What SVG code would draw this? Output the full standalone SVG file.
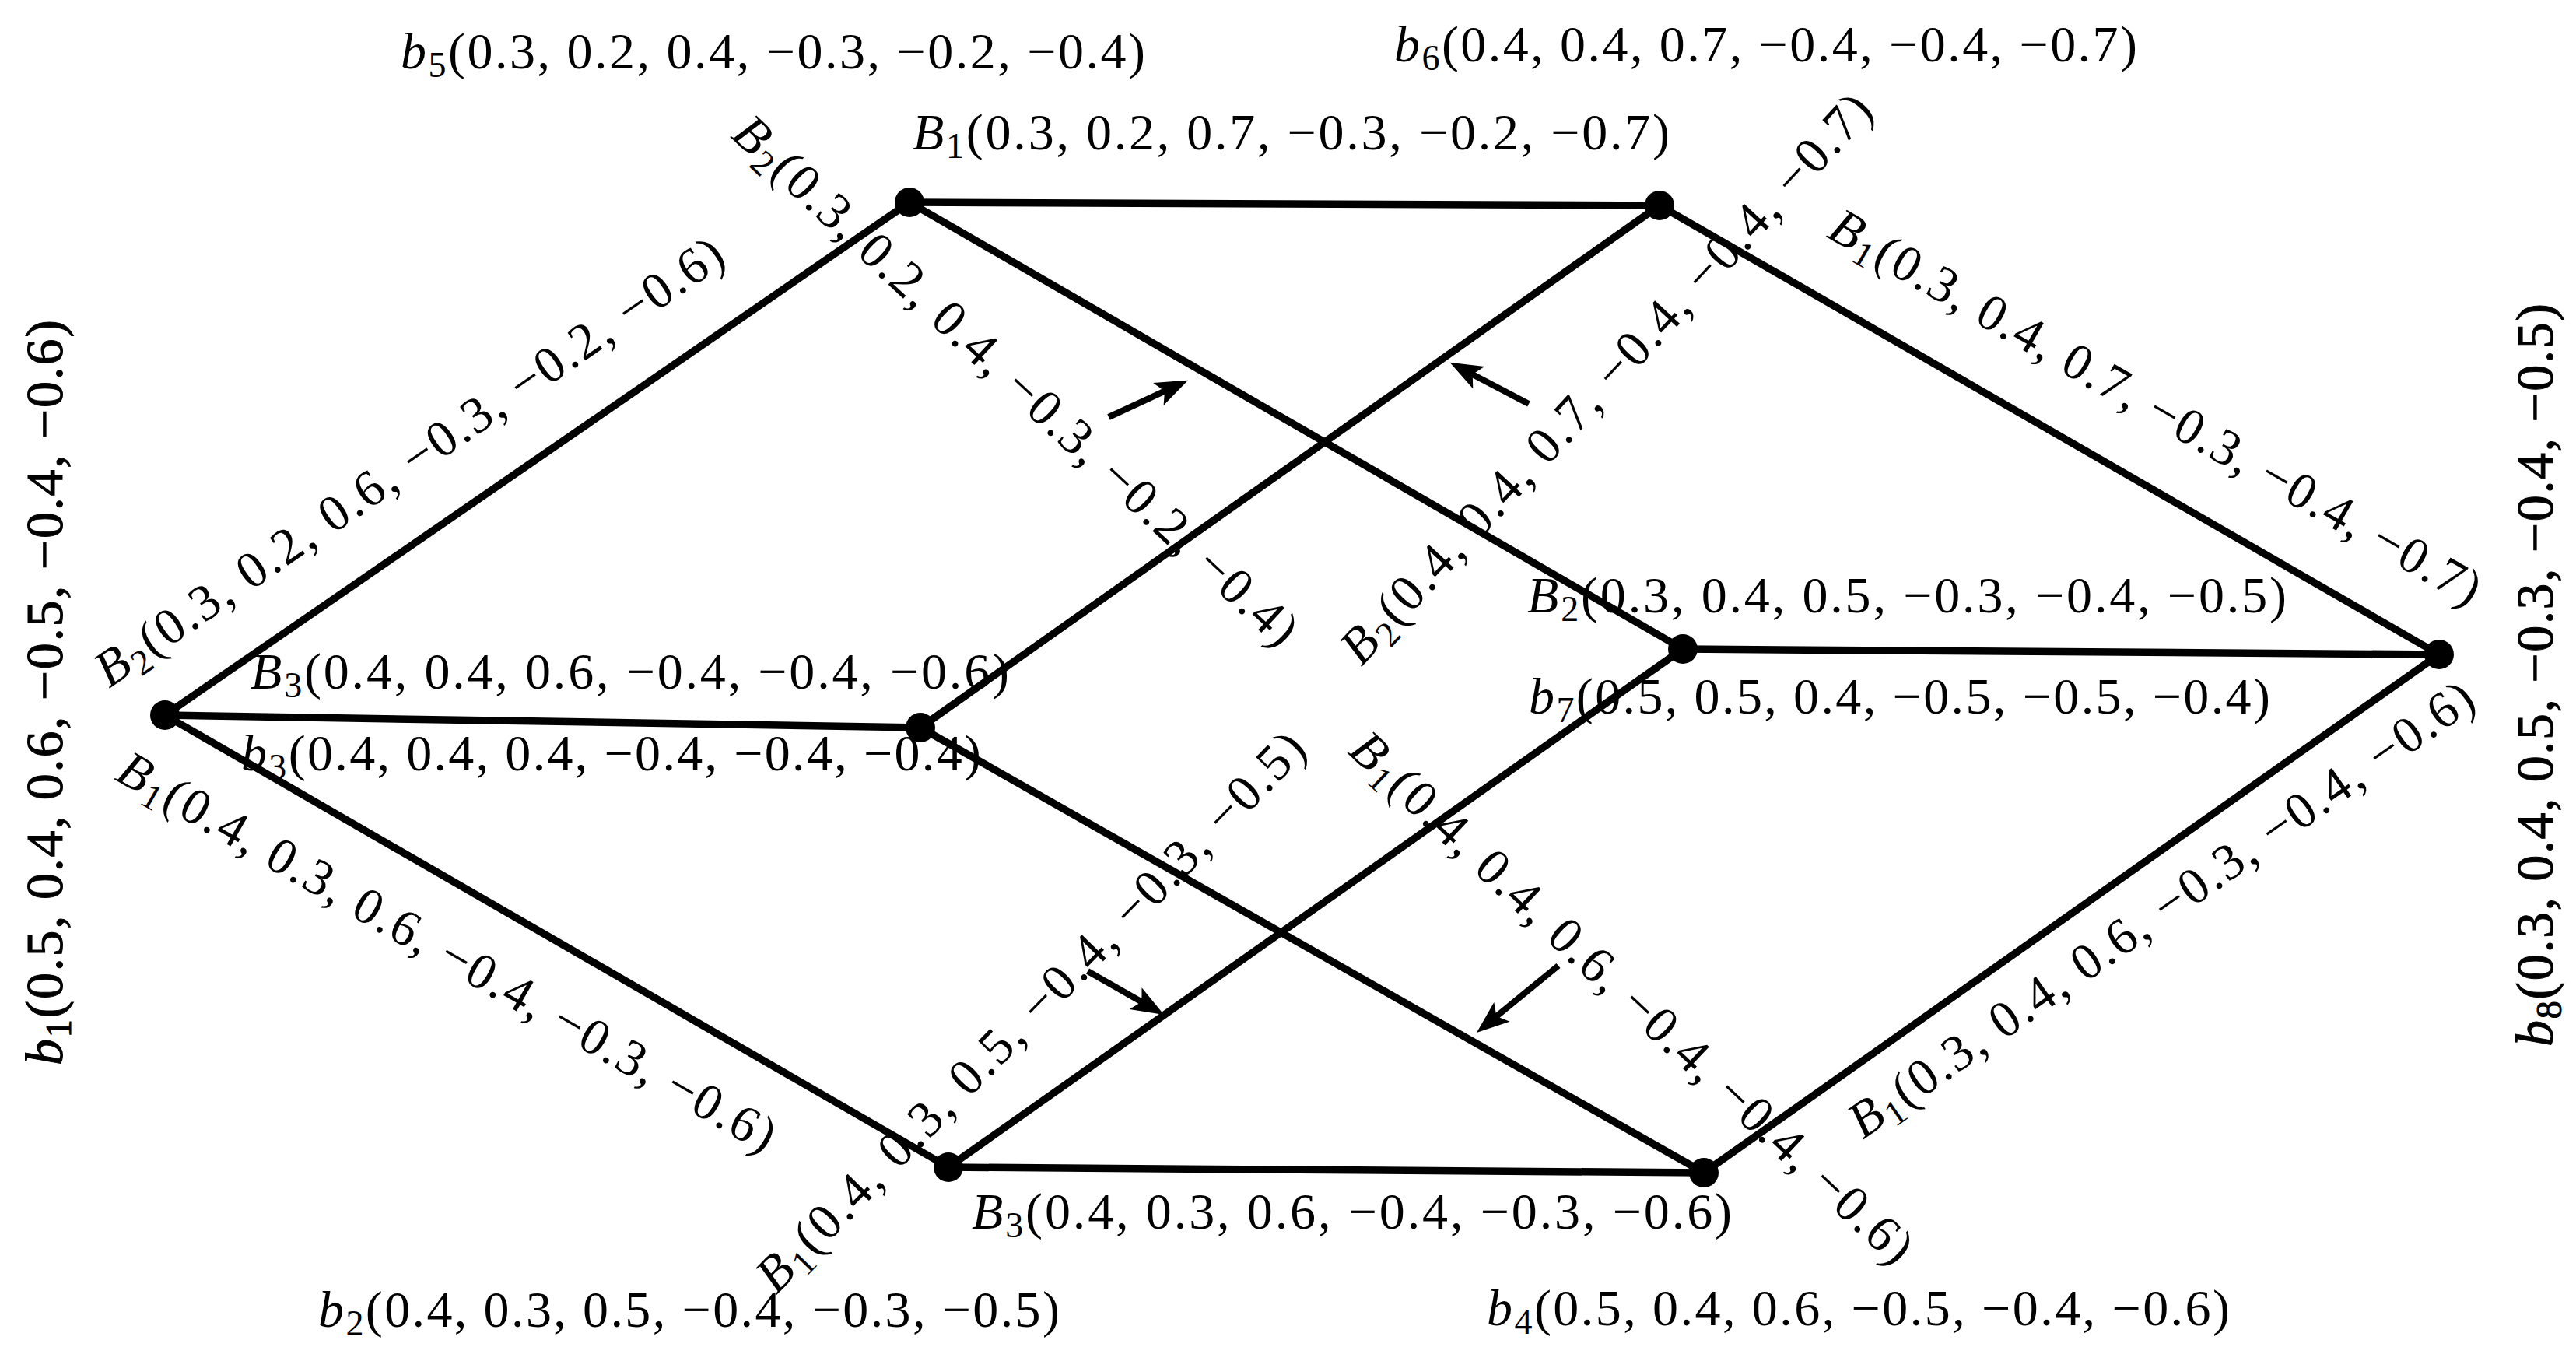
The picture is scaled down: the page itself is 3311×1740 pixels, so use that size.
<svg xmlns="http://www.w3.org/2000/svg" width="3311" height="1740" viewBox="0 0 3311 1740">
<style>
.edge{stroke:#000;stroke-width:9.5;fill:none;stroke-linecap:round}
.arr{stroke:#000;stroke-width:8;fill:none;marker-end:url(#ah)}
.node{fill:#000}
.lbl{font-family:"Liberation Serif","DejaVu Serif",serif;font-size:66px;fill:#000}
.vl{font-size:68px;stroke:#000;stroke-width:1}
.it{font-style:italic}
.sub{font-size:46px}
</style>
<defs>
<marker id="ah" markerUnits="userSpaceOnUse" markerWidth="46" markerHeight="36" refX="20" refY="16" orient="auto" overflow="visible">
<path d="M0,0 L42,16 L0,32 L9,16 Z" fill="#000"/>
</marker>
</defs>
<rect width="3311" height="1740" fill="#fff"/>
<g id="connectors">
<line class="edge" x1="212" y1="919" x2="1169" y2="260"/>
<line class="edge" x1="212" y1="919" x2="1183" y2="935"/>
<line class="edge" x1="212" y1="919" x2="1219" y2="1500"/>
<line class="edge" x1="1169" y1="260" x2="2133" y2="264"/>
<line class="edge" x1="1169" y1="260" x2="2163" y2="834"/>
<line class="edge" x1="1183" y1="935" x2="2133" y2="264"/>
<line class="edge" x1="2133" y1="264" x2="3135" y2="841"/>
<line class="edge" x1="2163" y1="834" x2="3135" y2="841"/>
<line class="edge" x1="1183" y1="935" x2="2190" y2="1507"/>
<line class="edge" x1="1219" y1="1500" x2="2163" y2="834"/>
<line class="edge" x1="1219" y1="1500" x2="2190" y2="1507"/>
<line class="edge" x1="2190" y1="1507" x2="3135" y2="841"/>
<line class="arr" x1="1425" y1="536" x2="1507" y2="498"/>
<line class="arr" x1="1965" y1="519" x2="1883" y2="476"/>
<line class="arr" x1="1398" y1="1248" x2="1477" y2="1293"/>
<line class="arr" x1="2003" y1="1241" x2="1915" y2="1313"/>
</g>
<g id="edge-labels">
<text class="lbl" text-anchor="middle" textLength="966" transform="translate(538,611) rotate(-34.55)"><tspan class="it">B</tspan><tspan class="sub" dy="11">2</tspan><tspan dy="-11">(0.3, 0.2, 0.6, −0.3, −0.2, −0.6)</tspan></text>
<text class="lbl" text-anchor="middle" textLength="965" transform="translate(564,1242) rotate(29.98)"><tspan class="it">B</tspan><tspan class="sub" dy="11">1</tspan><tspan dy="-11">(0.4, 0.3, 0.6, −0.4, −0.3, −0.6)</tspan></text>
<text class="lbl" text-anchor="middle" textLength="966" transform="translate(1291,505) rotate(43)"><tspan class="it">B</tspan><tspan class="sub" dy="11">2</tspan><tspan dy="-11">(0.3, 0.2, 0.4, −0.3, −0.2, −0.4)</tspan></text>
<text class="lbl" text-anchor="middle" textLength="972" transform="translate(2080,501) rotate(-47.2)"><tspan class="it">B</tspan><tspan class="sub" dy="11">2</tspan><tspan dy="-11">(0.4, 0.4, 0.7, −0.4, −0.4, −0.7)</tspan></text>
<text class="lbl" text-anchor="middle" textLength="955" transform="translate(2760,542) rotate(29.93)"><tspan class="it">B</tspan><tspan class="sub" dy="11">1</tspan><tspan dy="-11">(0.3, 0.4, 0.7, −0.3, −0.4, −0.7)</tspan></text>
<text class="lbl" text-anchor="middle" textLength="968" transform="translate(2790,1186) rotate(-35.18)"><tspan class="it">B</tspan><tspan class="sub" dy="11">1</tspan><tspan dy="-11">(0.3, 0.4, 0.6, −0.3, −0.4, −0.6)</tspan></text>
<text class="lbl" text-anchor="middle" textLength="978" transform="translate(1340,1315) rotate(-45.6)"><tspan class="it">B</tspan><tspan class="sub" dy="11">1</tspan><tspan dy="-11">(0.4, 0.3, 0.5, −0.4, −0.3, −0.5)</tspan></text>
<text class="lbl" text-anchor="middle" textLength="966" transform="translate(2083,1298) rotate(43.2)"><tspan class="it">B</tspan><tspan class="sub" dy="11">1</tspan><tspan dy="-11">(0.4, 0.4, 0.6, −0.4, −0.4, −0.6)</tspan></text>
<text class="lbl" x="1173" y="192" textLength="973"><tspan class="it">B</tspan><tspan class="sub" dy="11">1</tspan><tspan dy="-11">(0.3, 0.2, 0.7, −0.3, −0.2, −0.7)</tspan></text>
<text class="lbl" x="322" y="885" textLength="975"><tspan class="it">B</tspan><tspan class="sub" dy="11">3</tspan><tspan dy="-11">(0.4, 0.4, 0.6, −0.4, −0.4, −0.6)</tspan></text>
<text class="lbl" x="1963" y="787" textLength="976"><tspan class="it">B</tspan><tspan class="sub" dy="11">2</tspan><tspan dy="-11">(0.3, 0.4, 0.5, −0.3, −0.4, −0.5)</tspan></text>
<text class="lbl" x="1249" y="1579" textLength="977"><tspan class="it">B</tspan><tspan class="sub" dy="11">3</tspan><tspan dy="-11">(0.4, 0.3, 0.6, −0.4, −0.3, −0.6)</tspan></text>
</g>
<g id="b1">
<circle class="node" cx="212" cy="919" r="19"/>
<text class="lbl vl" textLength="958" transform="translate(80,1369) rotate(-90)"><tspan class="it">b</tspan><tspan class="sub" dy="11">1</tspan><tspan dy="-11">(0.5, 0.4, 0.6, −0.5, −0.4, −0.6)</tspan></text>
</g>
<g id="b2">
<circle class="node" cx="1219" cy="1500" r="19"/>
<text class="lbl" x="409" y="1705" textLength="953"><tspan class="it">b</tspan><tspan class="sub" dy="11">2</tspan><tspan dy="-11">(0.4, 0.3, 0.5, −0.4, −0.3, −0.5)</tspan></text>
</g>
<g id="b3">
<circle class="node" cx="1183" cy="935" r="19"/>
<text class="lbl" x="310" y="990" textLength="951"><tspan class="it">b</tspan><tspan class="sub" dy="11">3</tspan><tspan dy="-11">(0.4, 0.4, 0.4, −0.4, −0.4, −0.4)</tspan></text>
</g>
<g id="b4">
<circle class="node" cx="2190" cy="1507" r="19"/>
<text class="lbl" x="1911" y="1703" textLength="955"><tspan class="it">b</tspan><tspan class="sub" dy="11">4</tspan><tspan dy="-11">(0.5, 0.4, 0.6, −0.5, −0.4, −0.6)</tspan></text>
</g>
<g id="b5">
<circle class="node" cx="1169" cy="260" r="19"/>
<text class="lbl" x="515" y="88" textLength="957"><tspan class="it">b</tspan><tspan class="sub" dy="11">5</tspan><tspan dy="-11">(0.3, 0.2, 0.4, −0.3, −0.2, −0.4)</tspan></text>
</g>
<g id="b6">
<circle class="node" cx="2133" cy="264" r="19"/>
<text class="lbl" x="1792" y="79" textLength="955"><tspan class="it">b</tspan><tspan class="sub" dy="11">6</tspan><tspan dy="-11">(0.4, 0.4, 0.7, −0.4, −0.4, −0.7)</tspan></text>
</g>
<g id="b7">
<circle class="node" cx="2163" cy="834" r="19"/>
<text class="lbl" x="1965" y="917" textLength="953"><tspan class="it">b</tspan><tspan class="sub" dy="11">7</tspan><tspan dy="-11">(0.5, 0.5, 0.4, −0.5, −0.5, −0.4)</tspan></text>
</g>
<g id="b8">
<circle class="node" cx="3135" cy="841" r="19"/>
<text class="lbl vl" textLength="955" transform="translate(3281,1345) rotate(-90)"><tspan class="it">b</tspan><tspan class="sub" dy="11">8</tspan><tspan dy="-11">(0.3, 0.4, 0.5, −0.3, −0.4, −0.5)</tspan></text>
</g>
</svg>
